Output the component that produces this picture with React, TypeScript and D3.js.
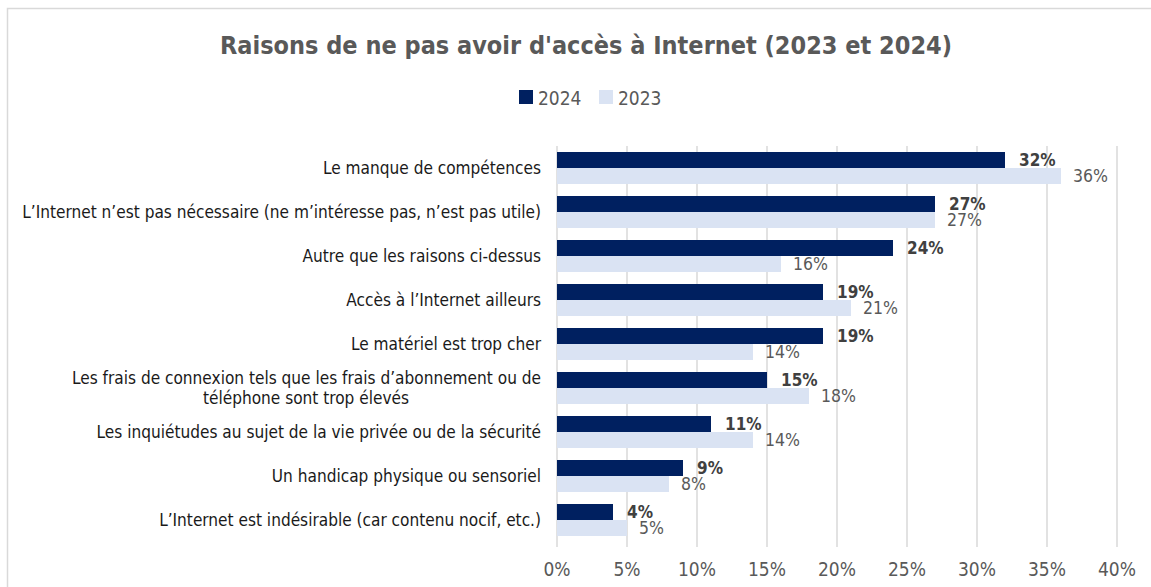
import React from "react";
import * as d3 from "d3";

const categories: string[][] = [
  ["Le manque de compétences"],
  ["L’Internet n’est pas nécessaire (ne m’intéresse pas, n’est pas utile)"],
  ["Autre que les raisons ci-dessus"],
  ["Accès à l’Internet ailleurs"],
  ["Le matériel est trop cher"],
  ["Les frais de connexion tels que les frais d’abonnement ou de", "téléphone sont trop élevés"],
  ["Les inquiétudes au sujet de la vie privée ou de la sécurité"],
  ["Un handicap physique ou sensoriel"],
  ["L’Internet est indésirable (car contenu nocif, etc.)"],
];
const values2024 = [32, 27, 24, 19, 19, 15, 11, 9, 4];
const values2023 = [36, 27, 16, 21, 14, 18, 14, 8, 5];
const xTicks = [0, 5, 10, 15, 20, 25, 30, 35, 40];
const seriesNames = ["2024", "2023"];

const W = 1151;
const H = 587;
const FONT = "'DejaVu Sans Condensed', 'DejaVu Sans', Verdana, sans-serif";
const cond = { fontStretch: "condensed" as const };

export default function App() {
  const left = 557;
  const right = 1117;
  const top = 146;
  const bottom = 542;
  const x = d3.scaleLinear().domain([0, 40]).range([left, right]);
  const y = d3
    .scaleBand<number>()
    .domain(d3.range(categories.length))
    .range([top, bottom])
    .paddingInner(12 / 44)
    .paddingOuter(6 / 44);
  const bw = y.bandwidth() / 2;
  const colors = ["#002060", "#DAE3F3"];
  const LBL = 17.1;

  return (
    <svg width={W} height={H} style={{ display: "block", position: "absolute", left: 0, top: 0 }}>
      <rect x={0} y={0} width={W} height={H} fill="#fff" />
      <rect x={7.5} y={8.5} width={W + 10} height={H + 10} fill="none" stroke="#d9d9d9" strokeWidth={1.5} />
      <text
        x={586}
        y={54}
        textAnchor="middle"
        fontFamily={FONT}
        fontWeight="bold"
        fontSize={25}
        fill="#595959"
        style={cond}
      >
        Raisons de ne pas avoir d'accès à Internet (2023 et 2024)
      </text>
      {/* legend */}
      {seriesNames.map((s, i) => (
        <g key={s} transform={`translate(${519 + i * 80},0)`}>
          <rect x={0} y={90} width={14} height={14} fill={colors[i]} />
          <text x={19} y={105} fontFamily={FONT} fontSize={19} fill="#595959" style={cond}>
            {s}
          </text>
        </g>
      ))}
      {/* gridlines */}
      {xTicks.map((t) => (
        <line key={t} x1={x(t)} x2={x(t)} y1={top} y2={bottom + 5} stroke="#d9d9d9" strokeWidth={1.5} />
      ))}
      {xTicks.map((t) => (
        <text
          key={"l" + t}
          x={x(t)}
          y={576}
          textAnchor="middle"
          fontFamily={FONT}
          fontSize={19}
          fill="#595959"
          style={cond}
        >
          {t}%
        </text>
      ))}
      {/* bars */}
      {categories.map((c, i) => {
        const y0 = y(i)!;
        return (
          <g key={i}>
            <rect x={x(0)} y={y0 + bw} width={x(values2023[i]) - x(0)} height={bw} fill={colors[1]} />
            <rect x={x(0)} y={y0} width={x(values2024[i]) - x(0)} height={bw} fill={colors[0]} />
            <text
              x={x(values2024[i]) + 14}
              y={y0 + bw / 2 + 6}
              fontFamily={FONT}
              fontWeight="bold"
              fontSize={17}
              fill="#404040"
              style={cond}
            >
              {values2024[i]}%
            </text>
            <text
              x={x(values2023[i]) + 12}
              y={y0 + bw * 1.5 + 6}
              fontFamily={FONT}
              fontSize={17.5}
              fill="#595959"
              style={cond}
            >
              {values2023[i]}%
            </text>
            {c.length === 1 ? (
              <text
                x={541}
                y={y0 + bw + 6}
                textAnchor="end"
                fontFamily={FONT}
                fontSize={LBL}
                fill="#1a1a1a"
                style={cond}
              >
                {c[0]}
              </text>
            ) : (
              <g>
                <text x={541} y={y0 + bw - 4} textAnchor="end" fontFamily={FONT} fontSize={LBL} fill="#1a1a1a" style={cond}>
                  {c[0]}
                </text>
                <text x={306} y={y0 + bw + 16} textAnchor="middle" fontFamily={FONT} fontSize={LBL} fill="#1a1a1a" style={cond}>
                  {c[1]}
                </text>
              </g>
            )}
          </g>
        );
      })}
    </svg>
  );
}
